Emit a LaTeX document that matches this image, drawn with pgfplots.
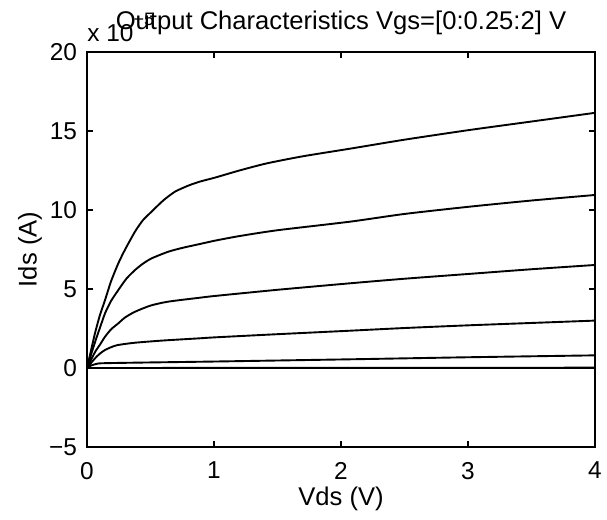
\documentclass[border=0pt]{standalone}
\usepackage{fontspec}
\setmainfont{Liberation Sans}
\usepackage{pgfplots}
\pgfplotsset{compat=1.18}

\newcommand{\tickfont}{\fontsize{12.2}{14}\selectfont}
\newcommand{\labfont}{\fontsize{12.8}{14}\selectfont}
\tikzset{curve/.style={black,solid,line width=0.95pt,mark=none,smooth,tension=0.4}}

\begin{document}
\begin{tikzpicture}
\begin{axis}[
name=ax,at={(0,0)},anchor=south west,
scale only axis,width=254pt,height=197.5pt,
xmin=0,xmax=4,ymin=-5,ymax=20,
xtick={0,1,2,3,4},ytick={-5,0,5,10,15,20},
yticklabels={−5,0,5,10,15,20},
tick align=inside,major tick length=2.8pt,
axis line style={line width=0.9pt},
every tick/.style={black,line width=0.6pt},
/pgf/number format/assume math mode=true,
tick label style={font=\tickfont},
xticklabel style={yshift=-4pt},
yticklabel style={xshift=-1.5pt},
clip=true
]
% Vgs = 0, 0.25, 0.5 (no conduction)
\addplot[curve] coordinates {(0,0)(4,0)};
\addplot[curve] coordinates {(0,0)(4,0)};
\addplot[curve] coordinates {(0,0)(4,0.02)};
% Vgs = 0.75
\addplot[curve] coordinates {(0,0)(0.03,0.15)(0.07,0.25)(0.118,0.3)(0.4,0.34)(1.008,0.41)(2.07,0.55)(3,0.68)(4,0.8)};
% Vgs = 1.0
\addplot[curve] coordinates {(0,0)(0.03,0.3)(0.063,0.61)(0.1,0.9)(0.142,1.14)(0.2,1.35)(0.247,1.46)(0.378,1.6)(0.6,1.74)(0.89,1.88)(1.008,1.94)(1.5,2.14)(2.07,2.36)(2.5,2.53)(3,2.7)(3.5,2.85)(4,3.0)};
% Vgs = 1.25
\addplot[curve] coordinates {(0,0)(0.03,0.5)(0.07,1.1)(0.1,1.45)(0.142,1.98)(0.19,2.45)(0.247,2.83)(0.3,3.2)(0.378,3.56)(0.5,3.95)(0.64,4.2)(0.89,4.45)(1.008,4.56)(1.5,4.95)(2.07,5.36)(2.5,5.65)(3,5.95)(3.5,6.25)(4,6.52)};
% Vgs = 1.5
\addplot[curve] coordinates {(0,0)(0.03,0.8)(0.07,1.8)(0.1,2.5)(0.142,3.46)(0.19,4.25)(0.247,4.94)(0.31,5.65)(0.378,6.2)(0.44,6.6)(0.509,6.94)(0.64,7.36)(0.75,7.6)(0.89,7.85)(1.008,8.06)(1.2,8.35)(1.5,8.72)(2.07,9.26)(2.5,9.75)(3,10.2)(3.5,10.6)(4,10.95)};
% Vgs = 1.75
\addplot[curve] coordinates {(0,0)(0.03,1.05)(0.063,2.2)(0.1,3.3)(0.142,4.3)(0.19,5.5)(0.247,6.63)(0.3,7.5)(0.378,8.63)(0.44,9.35)(0.509,9.9)(0.6,10.6)(0.693,11.16)(0.8,11.55)(0.89,11.8)(1.008,12.05)(1.2,12.5)(1.415,12.95)(1.7,13.4)(2.07,13.88)(2.5,14.45)(3,15.05)(3.5,15.6)(4,16.15)};
\end{axis}
% labels, title and the axis multiplier, MATLAB style
\node[font=\labfont,rotate=90,anchor=center] at (-28.5pt,98.75pt) {Ids (A)};
\node[font=\labfont,anchor=base] at (127pt,-29.5pt) {Vds (V)};
\node[font=\tickfont,anchor=base west,inner sep=0pt] at (0pt,202.5pt)
  {x 10\raisebox{1.3ex}{\fontsize{9}{10}\selectfont −5}};
\node[font=\labfont,anchor=base] at (127pt,208.5pt) {Output Characteristics Vgs=[0:0.25:2] V};
\pgfresetboundingbox
\path (-43.5pt,-36.5pt) rectangle (260pt,223.5pt);
\end{tikzpicture}
\end{document}
